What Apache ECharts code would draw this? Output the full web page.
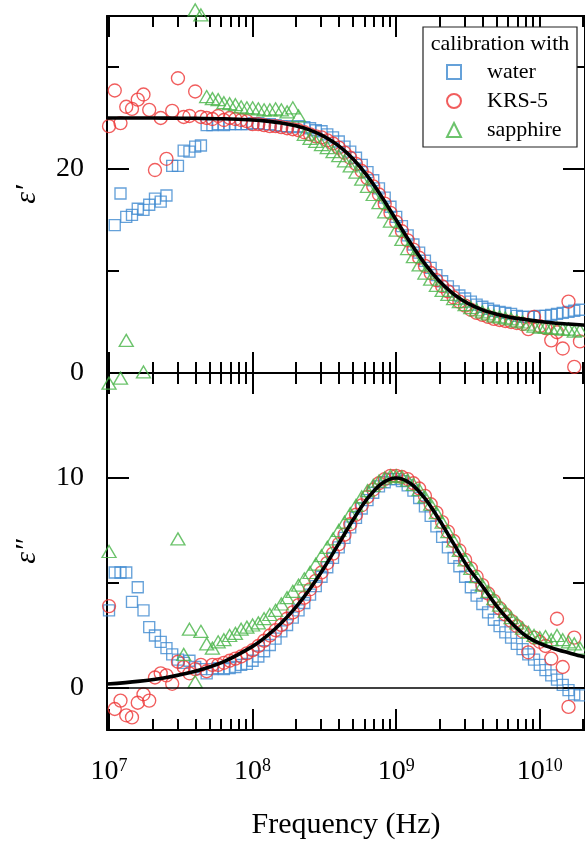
<!DOCTYPE html>
<html><head><meta charset="utf-8">
<script src="https://cdn.jsdelivr.net/npm/echarts@6/dist/echarts.min.js"></script>
<style>html,body{margin:0;padding:0;background:#fff}#c{width:585px;height:841px}</style>
</head><body><div id="c"></div>
<script>
// ---- data ----
const freq = [
1.000e7,1.096e7,1.202e7,1.318e7,1.445e7,1.585e7,1.738e7,1.905e7,2.089e7,2.291e7,
2.512e7,2.754e7,3.020e7,3.311e7,3.631e7,3.981e7,4.365e7,4.786e7,5.248e7,5.754e7,
6.310e7,6.918e7,7.586e7,8.318e7,9.120e7,1.000e8,1.096e8,1.202e8,1.318e8,1.445e8,
1.585e8,1.738e8,1.905e8,2.089e8,2.291e8,2.512e8,2.754e8,3.020e8,3.311e8,3.631e8,
3.981e8,4.365e8,4.786e8,5.248e8,5.754e8,6.310e8,6.918e8,7.586e8,8.318e8,9.120e8,
1.000e9,1.096e9,1.202e9,1.318e9,1.445e9,1.585e9,1.738e9,1.905e9,2.089e9,2.291e9,
2.512e9,2.754e9,3.020e9,3.311e9,3.631e9,3.981e9,4.365e9,4.786e9,5.248e9,5.754e9,
6.310e9,6.918e9,7.586e9,8.318e9,9.120e9,1.000e10,1.096e10,1.202e10,1.318e10,1.445e10,
1.585e10,1.738e10,1.905e10];

const waterEps1 = [
null,14.5,17.6,15.3,15.5,16.1,16.0,16.5,17.1,16.8,
17.4,20.3,20.3,21.8,21.7,22.2,22.3,24.3,24.3,24.4,
24.3,24.4,24.4,24.4,24.4,24.5,24.5,24.4,24.4,24.3,
24.2,24.2,24.1,24.2,24.1,24.0,23.8,23.7,23.4,23.1,
22.7,22.2,21.7,21.1,20.4,19.7,18.9,18.1,17.2,16.3,
15.3,14.4,13.5,12.6,11.8,11.0,10.3,9.6,9.0,8.5,
8.0,7.6,7.3,7.0,6.7,6.5,6.3,6.1,6.0,5.9,
5.8,5.6,5.5,5.5,5.5,5.6,5.6,5.7,5.8,5.9,
6.0,6.1,6.2];
const krsEps1 = [
24.2,27.7,24.5,26.1,25.9,26.8,27.3,25.8,19.9,25.0,
21.0,25.7,28.9,25.1,25.2,27.6,25.1,25.0,24.9,25.2,
24.8,25.0,24.9,24.8,24.7,24.4,24.4,24.3,24.2,24.2,
24.1,24.0,23.9,23.8,23.6,23.4,23.2,23.1,22.8,22.5,
22.1,21.6,21.1,20.5,19.8,19.1,18.3,17.5,16.6,15.7,
14.8,13.9,13.0,12.1,11.3,10.5,9.8,9.1,8.5,8.0,
7.4,7.0,6.6,6.2,5.9,5.7,5.5,5.3,5.2,5.1,
5.0,4.9,4.8,4.3,5.5,4.6,4.4,3.2,4.0,2.4,
7.0,0.6,3.1];
const sapphireEps1 = [
-1.0,null,-0.5,3.2,null,null,0.1,null,null,null,
null,null,null,null,null,35.6,35.1,27.1,26.9,26.8,
26.5,26.4,26.3,26.1,26.0,26.0,25.9,25.8,25.8,25.9,
25.8,25.6,26.0,25.2,23.4,23.0,22.7,22.4,22.1,21.7,
21.3,20.8,20.3,19.7,19.0,18.3,17.5,16.7,15.8,14.9,
14.0,13.1,12.2,11.4,10.6,9.8,9.2,8.6,8.1,7.7,
7.3,7.0,6.7,6.4,6.2,6.0,5.8,5.6,5.5,5.4,
5.3,5.1,5.0,4.8,4.6,4.5,4.5,4.4,4.4,4.3,
4.3,4.1,4.2];

const waterEps2 = [
3.7,5.5,5.5,5.5,4.1,4.8,3.7,2.9,2.5,2.2,
1.9,1.6,1.35,1.2,1.3,1.0,0.9,0.7,0.9,0.95,
0.9,0.95,1.0,1.1,1.15,1.3,1.5,1.75,2.05,2.35,
2.7,3.0,3.35,3.7,4.05,4.45,4.85,5.3,5.75,6.2,
6.7,7.15,7.65,8.1,8.55,8.95,9.3,9.6,9.8,9.95,
9.95,9.85,9.65,9.4,9.05,8.65,8.2,7.7,7.2,6.7,
6.2,5.8,5.3,4.8,4.4,4.0,3.6,3.25,2.95,2.65,
2.4,2.1,1.85,1.6,1.35,1.1,0.85,0.6,0.4,0.15,
-0.1,-0.3,-0.35];
const krsEps2 = [
3.9,-1.0,-0.6,-1.3,-1.4,-0.7,-0.3,-0.6,0.5,0.7,
0.6,0.2,1.25,1.0,0.7,0.9,1.1,0.8,1.1,1.1,
1.2,1.3,1.4,1.5,1.65,1.8,2.0,2.25,2.5,2.75,
3.0,3.3,3.6,3.95,4.3,4.7,5.1,5.5,5.95,6.4,
6.85,7.3,7.8,8.25,8.7,9.1,9.45,9.75,9.95,10.1,
10.1,10.05,9.95,9.75,9.5,9.15,8.75,8.35,7.9,7.45,
7.0,6.55,6.1,5.7,5.3,4.9,4.5,4.15,3.8,3.5,
3.2,2.95,2.7,1.7,2.4,2.2,2.0,1.4,3.3,1.0,
-0.9,2.4,null];
const sapphireEps2 = [
6.5,null,null,null,null,null,null,null,null,null,
null,null,7.1,1.6,2.8,0.3,2.7,2.1,1.9,2.2,
2.3,2.5,2.6,2.8,2.9,3.0,3.1,3.3,3.5,3.7,
4.0,4.3,4.6,4.9,5.2,5.5,5.9,6.3,6.7,7.1,
7.5,7.9,8.3,8.7,9.1,9.4,9.65,9.85,10.0,10.1,
10.1,10.05,9.9,9.7,9.45,9.1,8.75,8.35,7.9,7.45,
7.0,6.55,6.1,5.7,5.3,4.9,4.6,4.25,3.95,3.65,
3.35,3.1,2.85,2.65,2.5,2.4,2.45,2.3,2.5,2.3,
2.2,2.1,1.9];

const fitFreq = [9.7e6,1.585e7,2.512e7,3.981e7,6.310e7,1.000e8,1.259e8,1.585e8,1.995e8,2.512e8,
3.162e8,3.981e8,5.012e8,6.310e8,7.943e8,1.000e9,1.259e9,1.585e9,1.995e9,2.512e9,
3.162e9,3.981e9,5.012e9,6.310e9,7.943e9,1.000e10,1.259e10,1.585e10,1.995e10,2.2e10];
const fitEps1 = [25.0,25.0,24.99,24.97,24.92,24.80,24.69,24.51,24.23,23.81,
23.18,22.26,20.98,19.30,17.26,15.00,12.74,10.70,9.02,7.74,
6.82,6.19,5.77,5.45,5.25,5.05,4.90,4.80,4.70,4.65];
const fitEps2 = [0.19,0.317,0.502,0.795,1.257,1.98,2.479,3.092,3.838,4.726,
5.749,6.873,8.011,9.025,9.740,10.0,9.74,9.025,8.011,6.873,
5.749,4.85,3.9,3.12,2.5,2.12,1.87,1.68,1.5,1.45];

const seriesNames = ['water','KRS-5','sapphire'];
const xMajorTicks = [1e7,1e8,1e9,1e10];
const xMinorTicks = [2e7,3e7,4e7,5e7,6e7,7e7,8e7,9e7,2e8,3e8,4e8,5e8,6e8,7e8,8e8,9e8,
  2e9,3e9,4e9,5e9,6e9,7e9,8e9,9e9,2e10];
const eps1MajorTicks = [0,20];
const eps1MinorTicks = [10,30];
const eps2MajorTicks = [0,10];
const eps2MinorTicks = [5];

// ---- styling ----
const FONT = "'Liberation Serif','Times New Roman',serif";
const COLORS = ['#3f8ad0','#ee3434','#47b447'];
const SYMBOLS = ['rect','circle','triangle'];
const SIZES = [11,13,[14,12]];
const XMIN = 9.68e6, XMAX = 2.065e10;

function pairs(xs, ys){ const out=[]; xs.forEach((x,i)=>{ if(ys[i]!==null) out.push([x,ys[i]]); }); return out; }

function xAx(grid, pos, major, labels){
  return {
    type:'log', logBase:10, gridIndex:grid, position:pos, min:XMIN, max:XMAX,
    axisLine:{show:major, onZero:false, lineStyle:{color:'#000', width:2}},
    axisTick:{show:true, inside:true, length:major?21:11, customValues:major?xMajorTicks:xMinorTicks,
      lineStyle:{color:'#000', width:2}},
    axisLabel:{show:labels, customValues:xMajorTicks, margin:27,
      formatter:v=>'{b|10}{s|'+Math.round(Math.log10(v))+'}',
      rich:{b:{fontSize:28, fontFamily:FONT, color:'#000', lineHeight:29},
            s:{fontSize:18, fontFamily:FONT, color:'#000', lineHeight:16, verticalAlign:'top'}}},
    splitLine:{show:false}, minorTick:{show:false}, minorSplitLine:{show:false},
    name: labels ? 'Frequency (Hz)' : '', nameLocation:'middle', nameGap:80,
    nameTextStyle:{fontSize:30, fontFamily:FONT, color:'#000'}
  };
}
function yAx(grid, pos, min, max, major, ticks, labels, name){
  return {
    type:'value', gridIndex:grid, position:pos, min:min, max:max,
    axisLine:{show:major, onZero:false, lineStyle:{color:'#000', width:2}},
    axisTick:{show:true, inside:true, length:major?22:12, customValues:ticks, lineStyle:{color:'#000', width:2}},
    axisLabel:{show:!!labels, customValues:labels||undefined, margin:23, fontSize:28, fontFamily:FONT, color:'#000'},
    splitLine:{show:false},
    name:name||'', nameLocation:'middle', nameGap:65,
    nameTextStyle:{fontSize:30, fontStyle:'italic', fontFamily:FONT, color:'#000'}
  };
}

const xAxes = [
  xAx(0,'bottom',true,false), xAx(0,'bottom',false,false), xAx(0,'top',true,false), xAx(0,'top',false,false),
  xAx(1,'bottom',true,true),  xAx(1,'bottom',false,false), xAx(1,'top',true,false), xAx(1,'top',false,false)
];
const yAxes = [
  yAx(0,'left',0,35,true,eps1MajorTicks,eps1MajorTicks,'ε′'), yAx(0,'left',0,35,false,eps1MinorTicks),
  yAx(0,'right',0,35,true,eps1MajorTicks), yAx(0,'right',0,35,false,eps1MinorTicks),
  yAx(1,'left',-2,15,true,eps2MajorTicks,eps2MajorTicks,'ε″'), yAx(1,'left',-2,15,false,eps2MinorTicks),
  yAx(1,'right',-2,15,true,eps2MajorTicks), yAx(1,'right',-2,15,false,eps2MinorTicks)
];

function sc(i, grid, ys){
  return {type:'scatter', name:seriesNames[i], xAxisIndex:grid*4, yAxisIndex:grid*4,
    data:pairs(freq, ys), symbol:SYMBOLS[i], symbolSize:SIZES[i], clip:false,
    itemStyle:{color:'rgba(0,0,0,0)', borderColor:COLORS[i], borderWidth:1.35},
    emphasis:{disabled:true}, z:2+i*0.1};
}
const series = [
  sc(0,0,waterEps1), sc(1,0,krsEps1), sc(2,0,sapphireEps1),
  sc(0,1,waterEps2), sc(1,1,krsEps2), sc(2,1,sapphireEps2),
  {type:'line', name:'fit1', xAxisIndex:0, yAxisIndex:0, data:pairs(fitFreq,fitEps1), smooth:0.3,
   showSymbol:false, symbol:'none', lineStyle:{color:'#000', width:3.6}, z:5, silent:true},
  {type:'line', name:'fit2', xAxisIndex:4, yAxisIndex:4, data:pairs(fitFreq,fitEps2), smooth:0.3,
   showSymbol:false, symbol:'none', lineStyle:{color:'#000', width:3.6}, z:5, silent:true,
   markLine:{silent:true, symbol:['none','none'], label:{show:false},
     lineStyle:{color:'#000', width:1.5, type:'solid'}, data:[{yAxis:0}]}}
];

const chart = echarts.init(document.getElementById('c'), null, {renderer:'canvas'});
chart.setOption({
  animation:false,
  backgroundColor:'#fff',
  grid:[{left:107, top:16, width:480, height:357}, {left:107, top:373, width:480, height:358}],
  xAxis:xAxes, yAxis:yAxes, series:series,
  legend:{data:seriesNames, orient:'vertical', left:446, top:61, itemWidth:14, itemHeight:14, itemGap:7,
    padding:0, selectedMode:false, z:10,
    textStyle:{fontSize:22, fontFamily:FONT, color:'#000', lineHeight:22, padding:[0,0,0,21]}},
  graphic:[
    {type:'rect', z:1, shape:{x:423, y:27, width:154, height:120}, style:{fill:'#fff', stroke:'#222', lineWidth:1.2}},
    {type:'text', z:11, x:500, y:33, style:{text:'calibration with', fontSize:22, fontFamily:FONT, fill:'#000', align:'center', verticalAlign:'top'}}
  ]
});
</script></body></html>
